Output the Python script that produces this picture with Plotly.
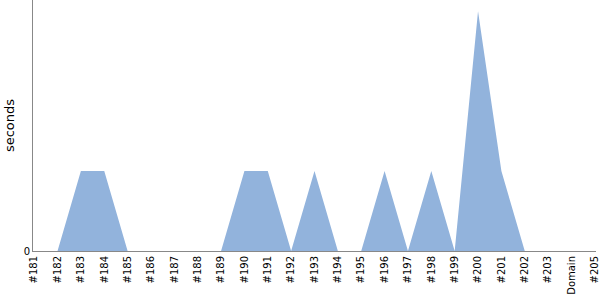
import plotly.graph_objects as go

categories = ["#181", "#182", "#183", "#184", "#185", "#186", "#187", "#188", "#189",
              "#190", "#191", "#192", "#193", "#194", "#195", "#196", "#197", "#198",
              "#199", "#200", "#201", "#202", "#203", "Domain", "#205"]
seconds = [0, 0, 1, 1, 0, 0, 0, 0, 0, 1, 1, 0, 1, 0, 0, 1, 0, 1, 0, 3, 1, 0, 0, 0, 0]

fig = go.Figure()
fig.add_trace(go.Scatter(
    x=categories, y=seconds, mode="lines", fill="tozeroy",
    line=dict(color="rgba(146,179,220,1)", width=0),
    fillcolor="rgb(146,179,220)", hoverinfo="skip",
))
fig.update_layout(
    width=600, height=300,
    margin=dict(l=33, r=4, t=0, b=49),
    paper_bgcolor="white", plot_bgcolor="white",
    showlegend=False,
    font=dict(family="DejaVu Sans, sans-serif", size=10, color="black"),
)
fig.update_xaxes(
    type="category", range=[-0.05, 24.05], tickangle=-90,
    showline=True, linecolor="#888", linewidth=1, showgrid=False, zeroline=False,
    ticks="", tickfont=dict(size=10),
)
fig.update_yaxes(
    range=[0, 3.14], tickvals=[0], ticktext=["0"],
    showline=True, linecolor="#888", linewidth=1, showgrid=False, zeroline=False,
    ticks="", tickfont=dict(size=10),
    title=dict(text="seconds", font=dict(size=13), standoff=6),
)
fig.write_html("out.html")
